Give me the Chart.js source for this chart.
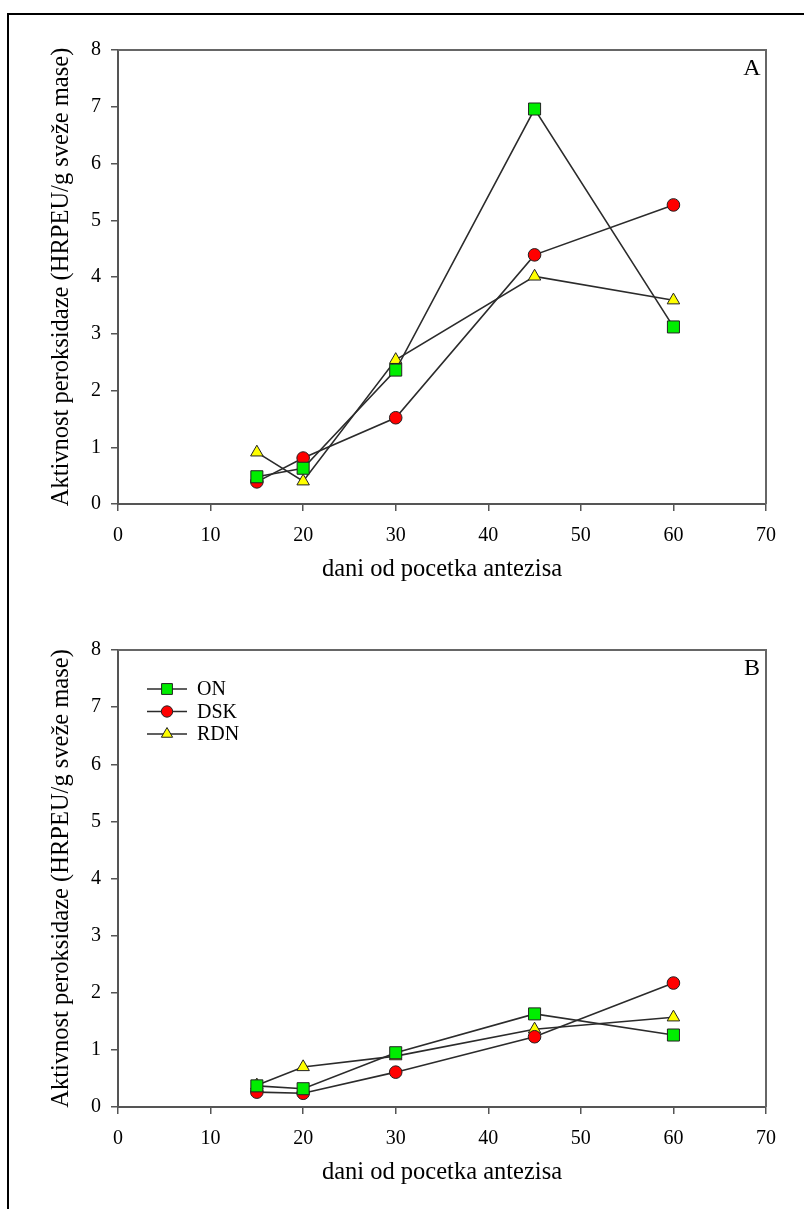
<!DOCTYPE html>
<html>
<head>
<meta charset="utf-8">
<script src="https://cdn.jsdelivr.net/npm/chart.js@4.4.1/dist/chart.umd.min.js"></script>
<style>
  html, body { margin: 0; padding: 0; background: #fff; overflow: hidden; }
  body { width: 804px; height: 1209px; position: relative; }
  #okvir { position: absolute; left: 7px; top: 13px; width: 900px; height: 1300px;
           border-left: 2px solid #000; border-top: 2px solid #000; }
  canvas { position: absolute; left: 0; }
  #grafA { top: 0; }
  #grafB { top: 600px; }
</style>
</head>
<body>
<div id="okvir"></div>
<canvas id="grafA" width="804" height="600"></canvas>
<canvas id="grafB" width="804" height="609"></canvas>
<script>
// dani od pocetka antezisa
const dani = [15, 20, 30, 45, 60];

// Panel A
const onA  = [0.48, 0.63, 2.36, 6.96, 3.12];
const dskA = [0.39, 0.81, 1.52, 4.39, 5.27];
const rdnA = [0.91, 0.40, 2.54, 4.01, 3.59];

// Panel B
const onB  = [0.37, 0.32, 0.95, 1.63, 1.26];
const dskB = [0.26, 0.24, 0.61, 1.23, 2.17];
const rdnB = [0.38, 0.70, 0.89, 1.36, 1.57];

const nazivi = ['ON', 'DSK', 'RDN'];
const xTicks = [0, 10, 20, 30, 40, 50, 60, 70];
const yTicks = [0, 1, 2, 3, 4, 5, 6, 7, 8];

const yNaslov = 'Aktivnost peroksidaze (HRPEU/g sveže mase)';
const xNaslov = 'dani od pocetka antezisa';

const FONT = "'Liberation Serif', 'Times New Roman', serif";
const stilovi = [
  { pointStyle: 'rect', pointRadius: 8.5, pointBackgroundColor: '#00ee00' },
  { pointStyle: 'circle', pointRadius: 6.3, pointBackgroundColor: '#ff0000' },
  { pointStyle: 'triangle', pointRadius: 7.2, pointBackgroundColor: '#ffff00' }
];

function napraviSkup(vrednosti, i) {
  return Object.assign({
    label: nazivi[i],
    data: dani.map((d, k) => ({ x: d, y: vrednosti[k] })),
    borderColor: '#2b2b2b',
    borderWidth: 1.6,
    pointBorderColor: '#222',
    pointBorderWidth: 1,
    pointHoverRadius: 7,
    tension: 0,
    fill: false
  }, stilovi[i]);
}

// okvir oko grafika (gornja i desna linija) + oznaka panela
const okvirPlugin = {
  id: 'okvir',
  afterDraw(chart, args, opts) {
    const { ctx, chartArea: a } = chart;
    ctx.save();
    ctx.strokeStyle = '#666';
    ctx.lineWidth = 2;
    ctx.beginPath();
    ctx.moveTo(a.left, a.top);
    ctx.lineTo(a.right, a.top);
    ctx.lineTo(a.right, a.bottom);
    ctx.stroke();
    ctx.fillStyle = '#000';
    ctx.font = '24px ' + FONT;
    ctx.textAlign = 'center';
    ctx.textBaseline = 'middle';
    ctx.fillText(opts.slovo, a.right - 14, a.top + 19);
    ctx.restore();
  }
};

// legenda unutar grafika (samo panel B)
const legendaPlugin = {
  id: 'legendaUnutra',
  afterDraw(chart, args, opts) {
    if (!opts.prikazi) return;
    const { ctx, chartArea: a } = chart;
    ctx.save();
    chart.data.datasets.forEach((ds, i) => {
      const y = a.top + 39 + i * 22.5;
      const x0 = a.left + 29;
      ctx.strokeStyle = ds.borderColor;
      ctx.lineWidth = 1.5;
      ctx.beginPath();
      ctx.moveTo(x0, y);
      ctx.lineTo(x0 + 40, y);
      ctx.stroke();
      ctx.fillStyle = ds.pointBackgroundColor;
      ctx.strokeStyle = ds.pointBorderColor;
      ctx.lineWidth = 1;
      Chart.helpers.drawPoint(ctx, { pointStyle: ds.pointStyle, radius: ds.pointRadius * 0.9, borderWidth: 1 }, x0 + 20, y);
      ctx.fillStyle = '#000';
      ctx.font = '20px ' + FONT;
      ctx.textAlign = 'left';
      ctx.textBaseline = 'middle';
      ctx.fillText(ds.label, x0 + 50, y + 1);
    });
    ctx.restore();
  }
};

function napraviGraf(id, serije, slovo, legenda, visina, xPad) {
  const xVisina = visina - 50 - 454 - (id === 'grafB' ? 3 : 0);
  new Chart(document.getElementById(id), {
    type: 'line',
    data: { datasets: serije.map(napraviSkup) },
    plugins: [okvirPlugin, legendaPlugin],
    options: {
      responsive: false,
      animation: false,
      devicePixelRatio: 1,
      layout: { padding: { top: 50, right: 38, left: 0, bottom: 0 } },
      plugins: {
        legend: { display: false },
        tooltip: { enabled: false },
        okvir: { slovo: slovo },
        legendaUnutra: { prikazi: legenda }
      },
      scales: {
        x: {
          type: 'linear',
          min: 0, max: 70,
          afterBuildTicks: (s) => { s.ticks = xTicks.map(v => ({ value: v })); },
          afterFit: (s) => { s.height = xVisina; },
          ticks: { color: '#000', font: { family: FONT, size: 20 }, padding: 13, maxRotation: 0 },
          grid: { drawOnChartArea: false, drawTicks: true, tickLength: 7, color: '#555', lineWidth: 1.5 },
          border: { color: '#555', width: 2 },
          title: { display: true, text: xNaslov, color: '#000',
                   font: { family: FONT, size: 24.5 }, padding: { top: 0, bottom: xPad } }
        },
        y: {
          type: 'linear',
          min: 0, max: 8,
          afterBuildTicks: (s) => { s.ticks = yTicks.map(v => ({ value: v })); },
          afterFit: (s) => { s.width = 118; },
          ticks: { color: '#000', font: { family: FONT, size: 20 }, padding: 10 },
          grid: { drawOnChartArea: false, drawTicks: true, tickLength: 7, color: '#555', lineWidth: 1.5 },
          border: { color: '#555', width: 2 },
          title: { display: true, text: yNaslov, color: '#000',
                   font: { family: FONT, size: 24.5 }, padding: { top: 47, bottom: 0 } }
        }
      }
    }
  });
}

napraviGraf('grafA', [onA, dskA, rdnA], 'A', false, 600, 16);
napraviGraf('grafB', [onB, dskB, rdnB], 'B', true, 609, 22);
</script>
</body>
</html>
